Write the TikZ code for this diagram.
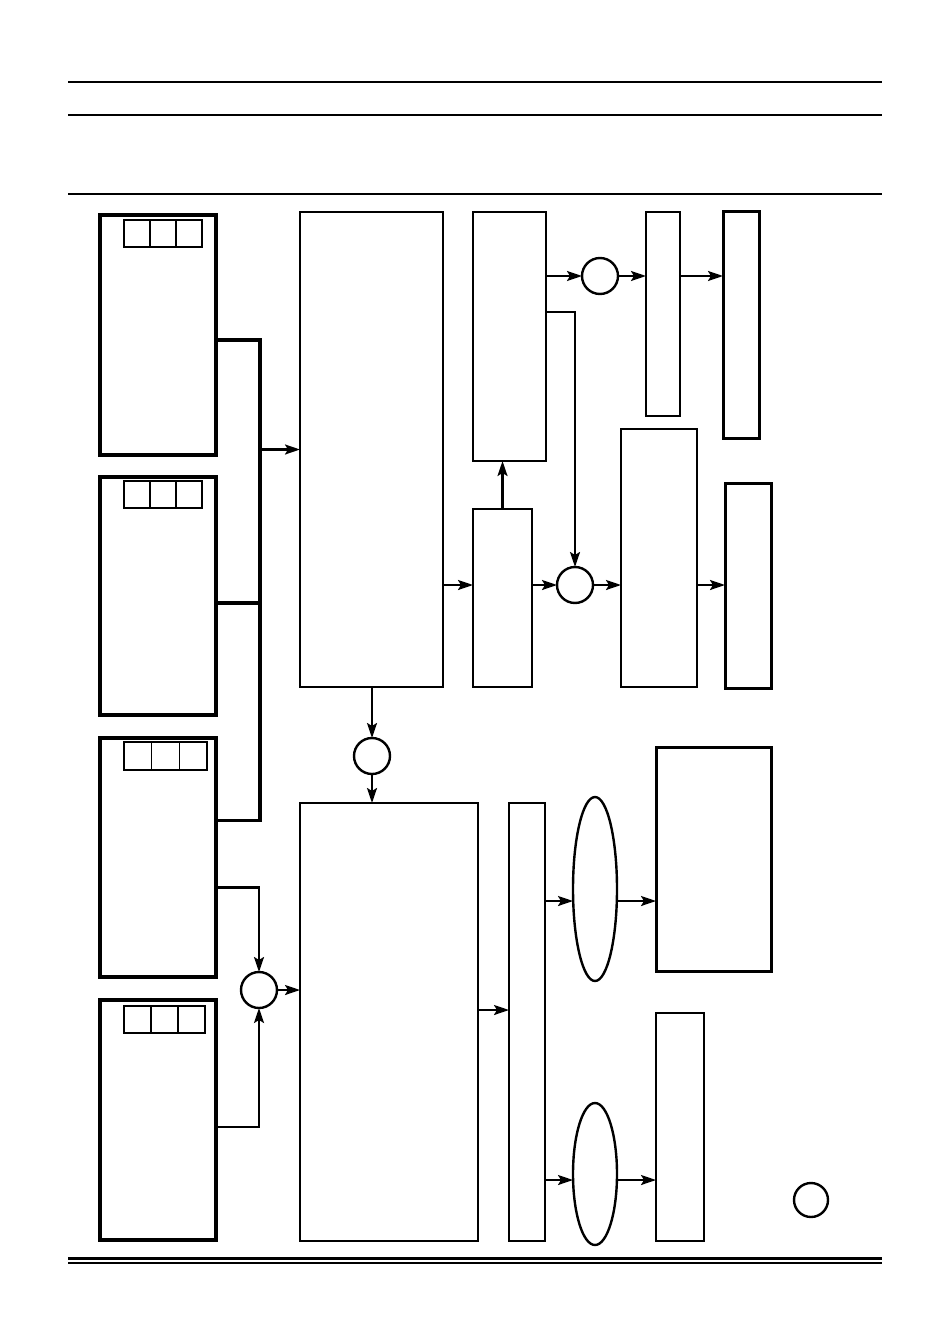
\documentclass[tikz,border=0pt]{standalone}
\usetikzlibrary{arrows.meta,shapes.geometric,positioning}

\begin{document}
\begin{tikzpicture}[
    x=1pt, y=-1pt,
    panel/.style={draw, line width=3.1pt, anchor=north west, inner sep=0pt, outer sep=0pt},
    blk/.style={draw, line width=1.6pt, anchor=north west, inner sep=0pt, outer sep=0pt},
    heavy/.style={draw, line width=3pt, anchor=north west, inner sep=0pt, outer sep=0pt},
    cell/.style={draw, line width=1.5pt, minimum height=27pt, anchor=north west, inner sep=0pt, outer sep=0pt},
    hub/.style={draw, circle, line width=2.4pt, minimum size=36pt, inner sep=0pt, outer sep=0pt},
    lens/.style={draw, ellipse, line width=2.4pt, minimum width=44pt, inner sep=0pt, outer sep=0pt},
    msg/.style={-{Stealth[length=15pt,width=10pt,inset=3pt]}, line width=2.2pt},
    bus/.style={line width=3.1pt}
]
\useasboundingbox (0,0) rectangle (933,1324);

% Header and footer rules
\draw[line width=2.6pt] (68,82) -- (882,82);
\draw[line width=2.6pt] (68,115) -- (882,115);
\draw[line width=1.3pt] (68,194) -- (882,194);
\draw[line width=3pt] (68,1258) -- (882,1258);
\draw[line width=1.3pt] (68,1263) -- (882,1263);

% Left panels
\node[panel, minimum width=116pt, minimum height=240pt] (p1) at (100,215) {};
\node[panel, minimum width=116pt, minimum height=238pt] (p2) at (100,477) {};
\node[panel, minimum width=116pt, minimum height=239pt] (p3) at (100,738) {};
\node[panel, minimum width=116pt, minimum height=240pt] (p4) at (100,1000) {};
\foreach \i in {0,1,2} {
    \node[cell, minimum width=26pt] (p1c\i) at (124+26*\i,220) {};
    \node[cell, minimum width=26pt] (p2c\i) at (124+26*\i,481) {};
    \node[cell, minimum width=27.7pt, minimum height=28pt] (p3c\i) at (124+27.7*\i,742) {};
    \node[cell, minimum width=27pt] (p4c\i) at (124+27*\i,1006) {};
}

% Upper chain
\node[blk, minimum width=143pt, minimum height=475pt] (A) at (300,212) {};
\node[blk, minimum width=59pt, minimum height=178pt] (B) at (473,509) {};
\node[blk, minimum width=73pt, minimum height=249pt] (C) at (473,212) {};
\node[blk, minimum width=34pt, minimum height=204pt] (D) at (646,212) {};
\node[heavy, minimum width=36pt, minimum height=226pt] (E) at (723,212) {};
\node[blk, minimum width=76pt, minimum height=258pt] (F) at (621,429) {};
\node[heavy, minimum width=46pt, minimum height=205pt] (G) at (725,483) {};
\node[hub] (c1) at (600,276) {};
\node[hub] (c2) at (575,585) {};

% Lower chain
\node[hub] (c3) at (372,756) {};
\node[hub] (c4) at (259,990) {};
\node[blk, minimum width=178pt, minimum height=438pt] (H) at (300,803) {};
\node[blk, minimum width=36pt, minimum height=438pt] (I) at (509,803) {};
\node[lens, minimum height=184pt] (e1) at (595,889) {};
\node[lens, minimum height=142pt] (e2) at (595,1174) {};
\node[heavy, minimum width=115pt, minimum height=224pt] (J) at (656,747) {};
\node[blk, minimum width=48pt, minimum height=228pt] (K) at (656,1013) {};
\node[hub, minimum size=34pt] (c5) at (811,1200) {};

% Bus
\coordinate (bus) at (260,0);
\draw[bus] ([yshift=-5pt]p1.east) -| ([yshift=37pt]p3.east -| bus) -- ([yshift=37pt]p3.east);
\draw[bus] ([yshift=-7pt]p2.east) -- ([yshift=-7pt]p2.east -| bus);
\draw[msg] (A.west -| bus) -- (A.west);

% Upper arrows
\draw[msg] (c2 -| A.east) -- (c2 -| B.west);
\draw[msg] (B.north) -- (B.north |- C.south);
\draw[msg] (c1 -| C.east) -- (c1.west);
\draw[msg] (c1.east) -- (c1 -| D.west);
\draw[msg] (c1 -| D.east) -- (c1 -| E.west);
\draw[msg] ([yshift=-100pt]C.north east) -| (c2.north);
\draw[msg] (c2 -| B.east) -- (c2.west);
\draw[msg] (c2.east) -- (c2 -| F.west);
\draw[msg] (c2 -| F.east) -- (c2 -| G.west);

% Lower arrows
\draw[msg] (c3 |- A.south) -- (c3.north);
\draw[msg] (c3.south) -- (c3.south |- H.north);
\draw[msg] ([yshift=-30pt]p3.east) -| (c4.north);
\draw[msg] ([yshift=-7pt]p4.east) -| (c4.south);
\draw[msg] (c4.east) -- (c4 -| H.west);
\draw[msg] ([yshift=12pt]H.east) -- ([yshift=12pt]H.east -| I.west);
\draw[msg] ([yshift=-12pt]e1.west -| I.east) -- ([yshift=-12pt]e1.west);
\draw[msg] ([yshift=-12pt]e1.east) -- ([yshift=-12pt]e1.east -| J.west);
\draw[msg] ([yshift=-6pt]e2.west -| I.east) -- ([yshift=-6pt]e2.west);
\draw[msg] ([yshift=-6pt]e2.east) -- ([yshift=-6pt]e2.east -| K.west);

\end{tikzpicture}
\end{document}
